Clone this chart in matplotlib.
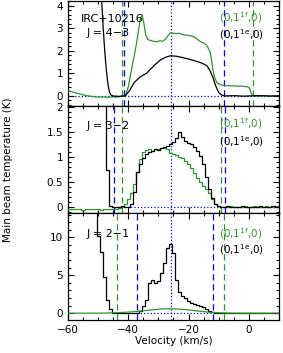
import numpy as np
import matplotlib
matplotlib.use('Agg')
import matplotlib.pyplot as plt
from matplotlib.ticker import MultipleLocator, FormatStrFormatter

plt.rcParams['font.family'] = ['DejaVu Sans']
plt.rcParams['mathtext.default'] = 'regular'
plt.rcParams['font.size'] = 7.5

GREEN = '#2b972b'
BLUE = '#0000ff'

# --- J = 4-3 (fine resolution, drawn as lines)
v43_black = [-49.6, -49.3, -48.8, -48.3, -47.8, -47.3, -46.8, -46.3, -45.8, -45, -43, -42, -41,
             -39.5, -38, -36, -34, -32.5, -31, -29.3, -27.5, -26, -24, -22, -20.4, -18.5, -17,
             -15.5, -14, -13, -12, -11, -10, -9, -8, -6, -4, -2, 0, 2, 5, 7, 10]
t43_black = [7.0, 5.5, 4.2, 3.0, 2.0, 1.2, 0.6, 0.2, 0.05, 0.0, -0.02, 0.0, 0.0,
             0.25, 0.6, 0.85, 1.0, 1.2, 1.4, 1.6, 1.72, 1.78, 1.76, 1.7, 1.65, 1.58, 1.52,
             1.45, 1.35, 1.15, 0.85, 0.45, 0.15, 0.04, 0.0, 0.01, 0.01, -0.01, 0.0, 0.01, 0.01, 0.0, 0.0]
v43_green = [-60, -59, -58, -57, -56, -55, -54, -53, -52, -51, -50, -49, -48, -47, -46, -45, -44, -43,
             -42, -41, -40, -39, -38, -37.3, -36.6, -36, -35.4, -34.8, -34.2, -33.5, -32.5, -31.5,
             -30.5, -29.5, -28.5, -27.5, -26.5, -26, -25, -24, -23, -22, -21, -20, -19, -18.2, -17,
             -16, -15, -14, -13, -12.5, -12, -11.3, -10.5, -9.5, -8.5, -7.5, -6.5, -5.5, -4.5, -3.5,
             -2.5, -1.5, -0.5, 0.2, 0.7, 1.2, 2, 3, 4, 5, 6, 7, 8, 9, 10]
t43_green = [0.22, 0.2, 0.16, 0.12, 0.09, 0.05, 0.02, 0.0, -0.02, -0.04, -0.05, -0.05, -0.04, -0.06, -0.05, -0.04, -0.05, -0.03,
             -0.02, 0.0, 0.4, 1.1, 1.8, 2.3, 2.9, 3.4, 3.6, 3.2, 2.7, 2.5, 2.45, 2.42,
             2.4, 2.45, 2.42, 2.55, 2.72, 2.8, 2.78, 2.76, 2.78, 2.72, 2.7, 2.68, 2.66, 2.62, 2.5,
             2.4, 2.35, 2.25, 2.0, 1.7, 1.2, 0.8, 0.57, 0.5, 0.47, 0.45, 0.46, 0.44, 0.45, 0.43,
             0.44, 0.42, 0.41, 0.35, 0.15, 0.03, 0.0, 0.02, -0.01, 0.01, 0.0, -0.02, 0.01, 0.0, 0.01]

# --- J = 3-2 (1 km/s channels)
v32_black = np.arange(-50, 11)
t32_black = [6.0, 4.5, 2.8, 0.74, 0.02, 0.0, -0.01, 0.0, 0.01, 0.0, -0.01,
             0.05, 0.3, 0.7, 0.85, 0.97, 1.05, 1.1, 1.12, 1.15, 1.14, 1.18, 1.2, 1.22, 1.25,
             1.3, 1.38, 1.5, 1.4, 1.32, 1.28, 1.25, 1.2, 1.12, 1.02, 0.85, 0.6, 0.35, 0.18,
             0.06, 0.01,
             0.0, 0.0, 0.01, 0.0, -0.01, 0.0, 0.0, 0.01, 0.0, 0.0, -0.01, 0.0, 0.0, 0.01,
             0.0, 0.0, 0.0, 0.01, 0.0, 0.0]
v32_green = np.arange(-60, 11)
t32_green = [-0.04, -0.05, -0.05, -0.04, -0.05, -0.06, -0.05, -0.05, -0.04, -0.05, -0.05,
             -0.06, -0.05, -0.04, -0.05, -0.05, -0.04, -0.03,
             0.0, 0.05, 0.15, 0.28, 0.45, 0.7, 0.95, 1.1, 1.13, 1.15, 1.12, 1.15, 1.16, 1.18,
             1.17, 1.15, 1.08, 1.06, 1.03, 1.0, 0.97, 0.92, 0.85, 0.78, 0.68, 0.58, 0.5, 0.42,
             0.36, 0.28, 0.16, 0.06, 0.01,
             0.0, -0.01, 0.0, 0.01, 0.0, 0.0, -0.01, 0.0, 0.01, 0.0, 0.0, 0.01, 0.0, -0.01,
             0.0, 0.01, 0.0, 0.0, 0.01, 0.0]

# --- J = 2-1
v21_black = np.arange(-53, 11)
t21_black = [25.0, 20.0, 16.0, 10.2, 8.0, 4.8, 1.7, 0.5, 0.05, 0.0, 0.0, 0.01, 0.0, 0.0,
             0.01, 0.0, 0.05, 0.3, 1.0, 1.7, 4.0, 4.4, 4.0, 4.2, 5.3, 6.6, 8.6, 9.1, 7.9,
             4.4, 2.8, 2.3, 2.0, 1.6, 1.3, 1.2, 1.1, 1.0, 0.8, 0.6, 0.35, 0.12, 0.03,
             0.0, 0.0, 0.0, 0.0, 0.0, 0.0, 0.0, 0.0, 0.0, 0.0, 0.0, 0.0, 0.0, 0.0, 0.0,
             0.0, 0.0, 0.0, 0.0, 0.0, 0.0]
v21_green = [-60, -55, -50, -47, -44, -41, -38, -35, -32, -29, -27, -25, -22, -19, -16,
             -13, -10, -7, -4, 0, 5, 10]
t21_green = [0.0, 0.0, 0.0, 0.02, 0.06, 0.12, 0.2, 0.32, 0.44, 0.55, 0.58, 0.57, 0.5, 0.38,
             0.24, 0.12, 0.05, 0.02, 0.0, 0.0, 0.0, 0.0]

labels = ['J = 4\u22123', 'J = 3\u22122', 'J = 2\u22121']
v_sys = -25.8
blue_dash = [(-41.3, -8.2), (-44.6, -8.0), (-37.1, -11.9)]
green_dash = [(-42.1, 1.4), (-42.1, -9.3), (-43.8, -8.2)]
hline_span = [(-60, 10), (-44.6, 10), (-37.1, -11.9)]

ylims = [(-0.44, 4.22), (-0.12, 2.02), (-0.9, 13.2)]
ymajor = [1, 0.5, 5]
yminor = [0.2, 0.1, 1]

fig = plt.figure(figsize=(2.83, 3.53), dpi=100)
positions = [[0.240, 0.700, 0.746, 0.298],
             [0.240, 0.3966, 0.746, 0.3034],
             [0.240, 0.0935, 0.746, 0.3031]]
axes = [fig.add_axes(p) for p in positions]

spectra = [
    (v43_black, t43_black, v43_green, t43_green, 'default'),
    (v32_black, t32_black, v32_green, t32_green, 'steps-mid'),
    (v21_black, t21_black, v21_green, t21_green, 'steps-mid'),
]

for i, ax in enumerate(axes):
    vb, tb, vg, tg, ds = spectra[i]
    if i == 2:
        ax.plot(vb, tb, color='black', lw=0.9, drawstyle=ds, zorder=3)
        ax.plot(vg, tg, color=GREEN, lw=0.9, zorder=4)
    else:
        ax.plot(vg, tg, color=GREEN, lw=0.9, drawstyle=ds, zorder=3)
        ax.plot(vb, tb, color='black', lw=0.9, drawstyle=ds, zorder=4)

    for x in blue_dash[i]:
        ax.axvline(x, color=BLUE, ls=(0, (5, 3)), lw=0.9, zorder=2)
    for x in green_dash[i]:
        ax.axvline(x, color=GREEN, ls=(0, (5, 3)), lw=0.9, zorder=2)
    ax.axvline(v_sys, color=BLUE, ls=':', lw=0.9, zorder=2)
    ax.hlines(0, hline_span[i][0], hline_span[i][1], color=BLUE, ls=':', lw=0.9, zorder=2)

    ax.set_xlim(-60, 10)
    ax.set_ylim(*ylims[i])
    ax.xaxis.set_major_locator(MultipleLocator(20))
    ax.xaxis.set_minor_locator(MultipleLocator(5))
    ax.yaxis.set_major_locator(MultipleLocator(ymajor[i]))
    ax.yaxis.set_minor_locator(MultipleLocator(yminor[i]))
    ax.yaxis.set_major_formatter(FormatStrFormatter('%g'))
    ax.tick_params(which='both', direction='in', top=True, right=True, labelsize=7.5)
    ax.tick_params(which='major', length=4, width=0.8)
    ax.tick_params(which='minor', length=2.5, width=0.8)
    for s in ax.spines.values():
        s.set_linewidth(0.9)
    if i < 2:
        ax.tick_params(labelbottom=False)

    ax.text(0.09, [0.69, 0.81, 0.80][i], labels[i], transform=ax.transAxes,
            va='center', ha='left', fontsize=8)
    ax.text(0.715, [0.835, 0.835, 0.81][i], r'(0,1$^{1f}$,0)', color=GREEN,
            transform=ax.transAxes, va='center', ha='left', fontsize=7.5)
    ax.text(0.715, [0.675, 0.665, 0.655][i], r'(0,1$^{1e}$,0)', color='black',
            transform=ax.transAxes, va='center', ha='left', fontsize=7.5)

axes[0].text(0.06, 0.83, 'IRC+10216', transform=axes[0].transAxes,
             va='center', ha='left', fontsize=8)

axes[2].set_xlabel('Velocity (km/s)', fontsize=7.5, labelpad=1)
fig.text(0.03, 0.52, 'Main beam temperature (K)', rotation=90,
         va='center', ha='center', fontsize=7.5)

fig.savefig('out.png', dpi=100)
